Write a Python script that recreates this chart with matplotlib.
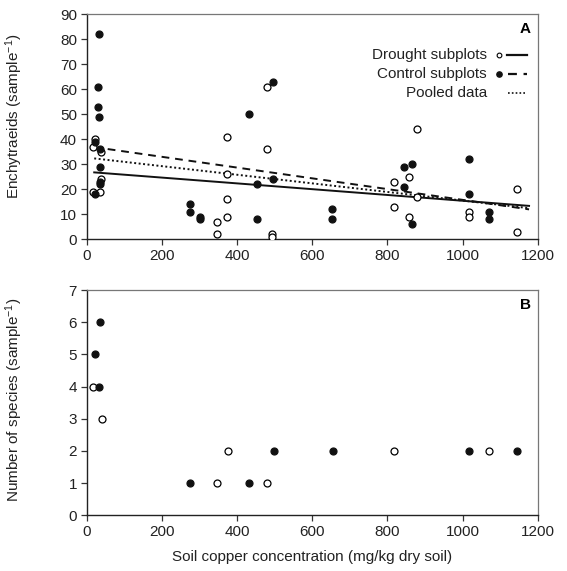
import matplotlib
matplotlib.use("Agg")
import matplotlib.pyplot as plt
import numpy as np

plt.rcParams['font.family'] = ['Liberation Sans', 'DejaVu Sans']
plt.rcParams['mathtext.fontset'] = 'custom'
plt.rcParams['mathtext.rm'] = 'Liberation Sans'
plt.rcParams['mathtext.it'] = 'Liberation Sans:italic'
plt.rcParams['mathtext.bf'] = 'Liberation Sans:bold'

# ---- Panel A data: Enchytraeids ----
drought_cu = [21, 18, 39, 39, 35, 17, 374, 374, 374, 374, 347, 347, 480, 480, 492, 492,
              818, 818, 858, 858, 879, 879, 1016, 1016, 1144, 1144]
drought_en = [40, 37, 35, 24, 19, 19, 41, 26, 16, 9, 7, 2, 61, 36, 2, 1,
              23, 13, 25, 9, 44, 17, 11, 9, 20, 3]
control_cu = [32, 29, 29, 32, 21, 35, 35, 35, 35, 21, 275, 275, 302, 302, 431, 454, 454,
              496, 496, 653, 653, 843, 843, 865, 865, 1016, 1016, 1070, 1070]
control_en = [82, 61, 53, 49, 39, 36, 29, 23, 22, 18, 14, 11, 9, 8, 50, 22, 8,
              63, 24, 12, 8, 29, 21, 30, 6, 32, 18, 11, 8]

# regression lines (intercept, slope)
fit_names = ["Drought subplots", "Control subplots", "Pooled data"]
fit_intercepts = [27.0, 37.3, 32.7]
fit_slopes = [-0.01158, -0.02152, -0.0172]
fit_xrange = [20, 1177]

# ---- Panel B data: Number of species ----
sp_drought_cu = [17, 40, 376, 347, 480, 818, 1070]
sp_drought_n = [4, 3, 2, 1, 1, 2, 2]
sp_control_cu = [35, 21, 32, 275, 431, 499, 655, 1016, 1144]
sp_control_n = [6, 5, 4, 1, 1, 2, 2, 2, 2]

xticks = [0, 200, 400, 600, 800, 1000, 1200]
yticksA = [0, 10, 20, 30, 40, 50, 60, 70, 80, 90]
yticksB = [0, 1, 2, 3, 4, 5, 6, 7]

W, H = 567, 571
fig = plt.figure(figsize=(W / 100, H / 100), dpi=100)

X0, X1 = 86.7, 537.7
def px_axes(x0, y0, x1, y1):
    return fig.add_axes([x0 / W, 1 - y1 / H, (x1 - x0) / W, (y1 - y0) / H])

axA = px_axes(X0, 14.3, X1, 239.3)
axB = px_axes(X0, 290.0, X1, 515.3)

FS = 11
ms = 5.0
TXT = '#222222'

def style(ax):
    for s in ['left', 'bottom']:
        ax.spines[s].set_color('#222222')
        ax.spines[s].set_linewidth(1.0)
    for s in ['top', 'right']:
        ax.spines[s].set_color('#777777')
        ax.spines[s].set_linewidth(0.9)
    ax.tick_params(direction='out', length=4, width=0.9, color='#333333',
                   labelsize=FS, labelcolor=TXT, pad=3)
    ax.set_xlim(0, 1200)
    ax.set_xticks(xticks)

style(axA)
style(axB)

LABEL_X = (25.5 - X0) / (X1 - X0)

# Panel A
axA.set_ylim(0, 90)
axA.set_yticks(yticksA)
axA.plot(drought_cu, drought_en, 'o', ms=ms, mfc='white', mec='black', mew=0.9, zorder=3)
axA.plot(control_cu, control_en, 'o', ms=ms, mfc='#111111', mec='#111111', mew=0.9, zorder=3)
xs = np.array(fit_xrange, dtype=float)
styles = ['-', (0, (4, 3)), (0, (1, 1.3))]
widths = [1.4, 1.4, 1.4]
for b, m, ls, lw in zip(fit_intercepts, fit_slopes, styles, widths):
    axA.plot(xs, b + m * xs, color='#111111', ls=ls, lw=lw, zorder=2)
axA.set_ylabel("Enchytraeids (sample$^{-1}$)", fontsize=FS, color=TXT)
axA.yaxis.set_label_coords(LABEL_X, 0.545)
axA.text(0.985, 0.935, "A", transform=axA.transAxes, ha='right', va='center',
         fontsize=FS, fontweight='bold')

# legend (manual)
tr = axA.transAxes
def ax_x(px):
    return (px - X0) / (X1 - X0)
def ax_y(py):
    return (239.3 - py) / (239.3 - 14.3)

leg_rows = [55.0, 74.0, 92.7]
text_end = [486.7, 486.7, 487.3]
for i, name in enumerate(fit_names):
    yy = ax_y(leg_rows[i])
    axA.text(ax_x(text_end[i]), yy, name, transform=tr, ha='right', va='center',
             fontsize=FS, color=TXT)
lg_m = 3.4
axA.plot([ax_x(499)], [ax_y(leg_rows[0])], 'o', ms=lg_m, mfc='white', mec='black', mew=0.8,
         transform=tr, clip_on=False)
axA.plot([ax_x(499)], [ax_y(leg_rows[1])], 'o', ms=lg_m + 0.4, mfc='#111111', mec='#111111',
         transform=tr, clip_on=False)
axA.plot([ax_x(506.7), ax_x(526.7)], [ax_y(leg_rows[0])] * 2, color='#111111', lw=1.6,
         transform=tr, clip_on=False)
axA.plot([ax_x(508), ax_x(526.7)], [ax_y(leg_rows[1])] * 2, color='#111111', lw=1.6,
         ls=(0, (4, 3)), transform=tr, clip_on=False)
axA.plot([ax_x(508), ax_x(526.7)], [ax_y(leg_rows[2])] * 2, color='#111111', lw=1.2,
         ls=(0, (1, 1.3)), transform=tr, clip_on=False)

# Panel B
axB.set_ylim(0, 7)
axB.set_yticks(yticksB)
axB.plot(sp_drought_cu, sp_drought_n, 'o', ms=ms, mfc='white', mec='black', mew=0.9, zorder=3,
         clip_on=False)
axB.plot(sp_control_cu, sp_control_n, 'o', ms=ms, mfc='#111111', mec='#111111', mew=0.9, zorder=3,
         clip_on=False)
axB.set_ylabel("Number of species (sample$^{-1}$)", fontsize=FS, color=TXT)
axB.yaxis.set_label_coords(LABEL_X, 0.515)
axB.set_xlabel("Soil copper concentration (mg/kg dry soil)", fontsize=FS, color=TXT,
               labelpad=8)
axB.text(0.985, 0.935, "B", transform=axB.transAxes, ha='right', va='center',
         fontsize=FS, fontweight='bold')

fig.savefig("out.png", dpi=100)
